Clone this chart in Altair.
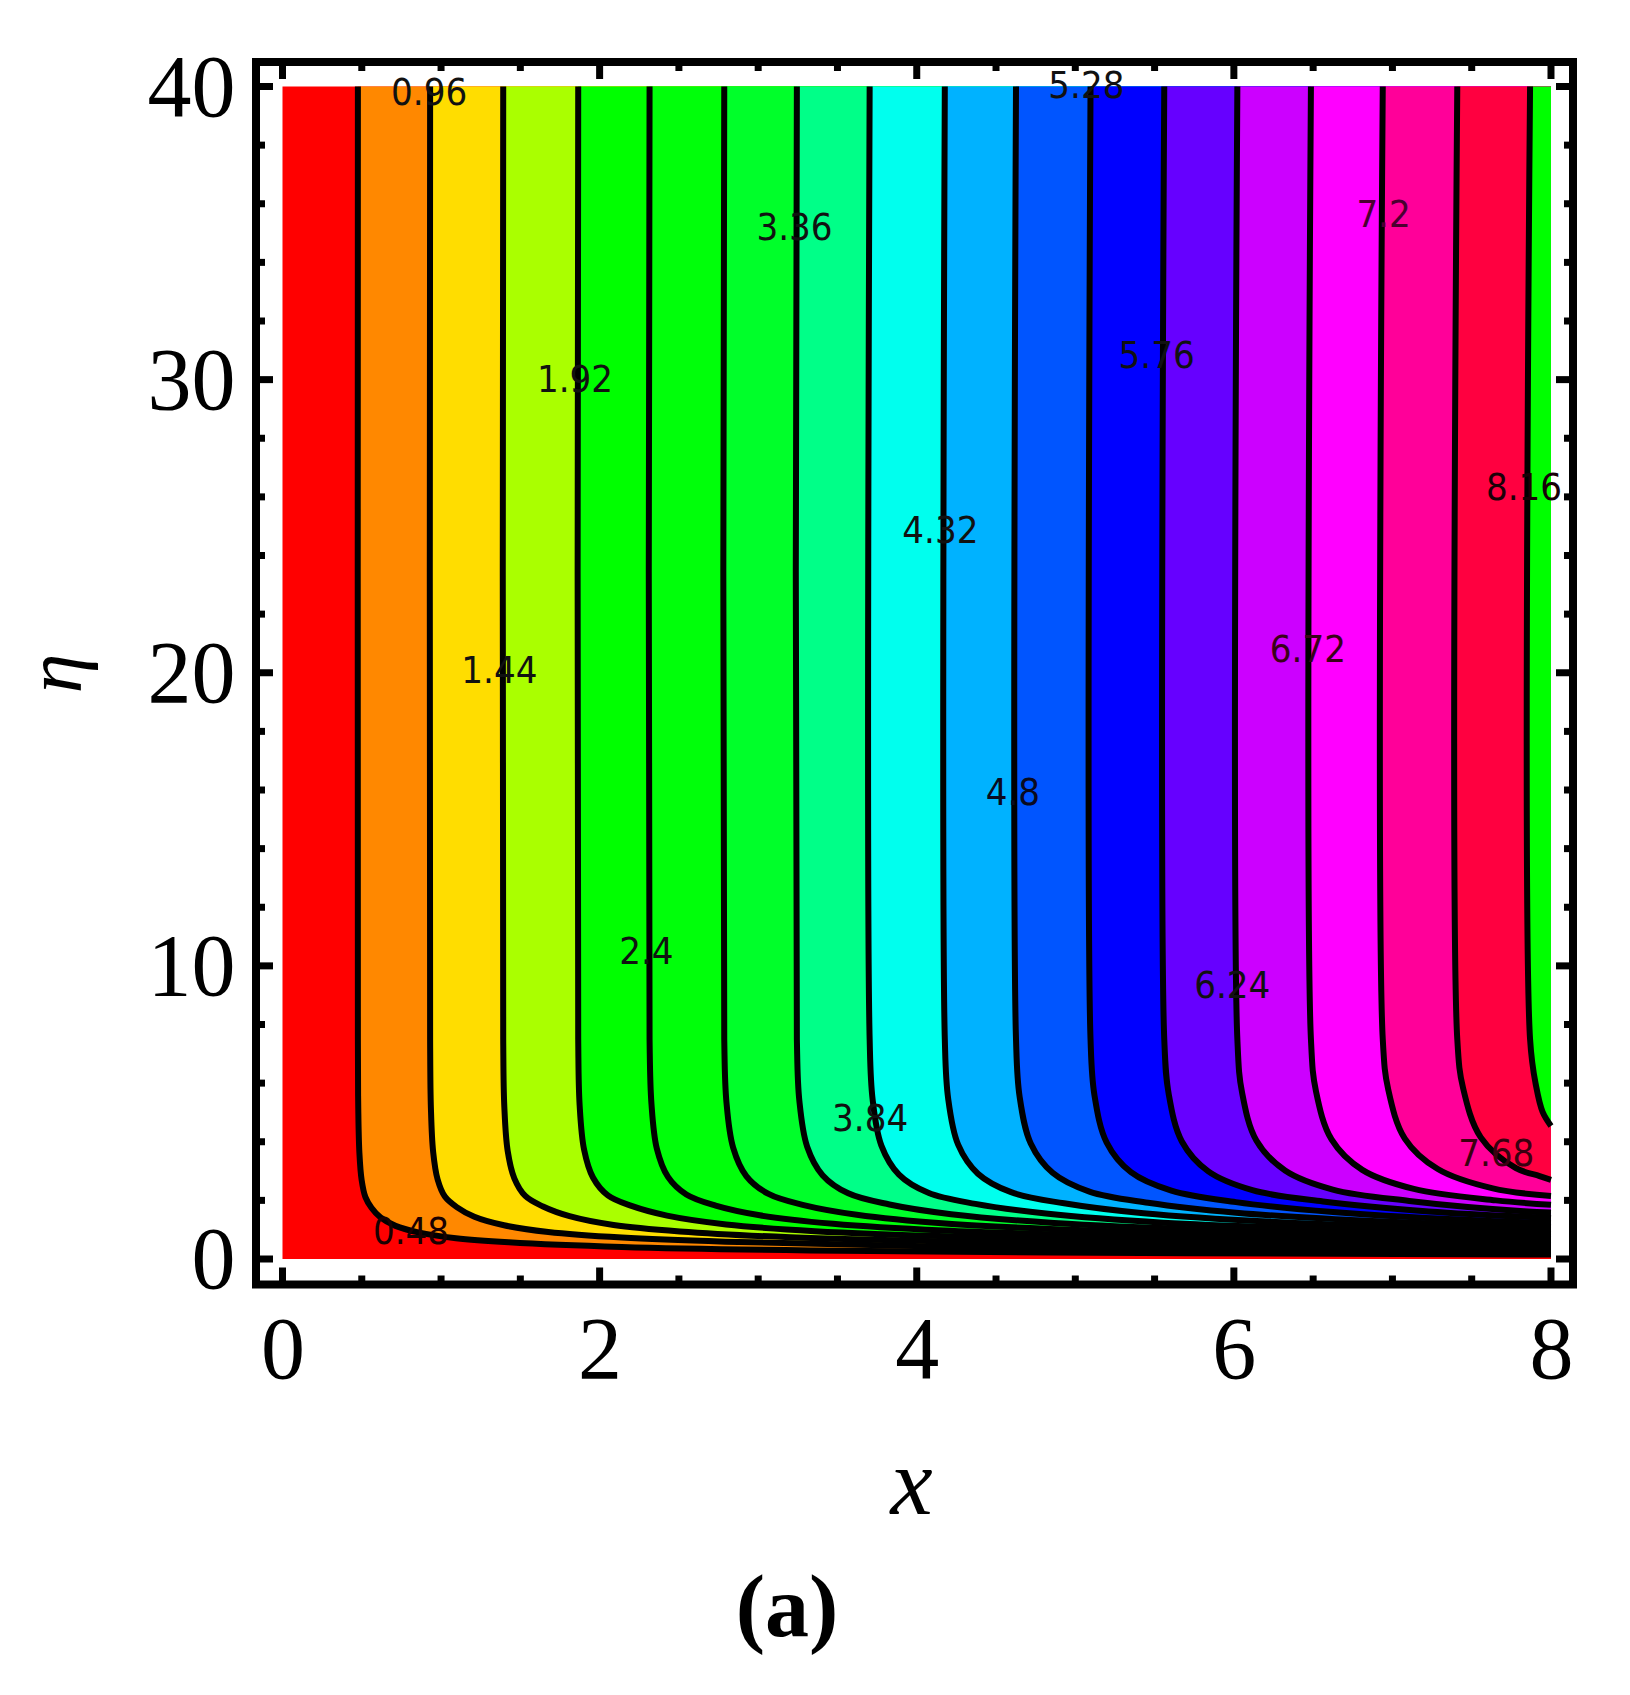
import altair as alt
import pandas as pd

# ---------------- data ----------------
levels = ["0.48", "0.96", "1.44", "1.92", "2.4", "2.88", "3.36", "3.84", "4.32",
          "4.8", "5.28", "5.76", "6.24", "6.72", "7.2", "7.68", "8.16"]

# contour lines: x positions and eta positions of points along each line
c01_x = [0.4755, 0.4755, 0.478, 0.485, 0.499, 0.523, 0.561, 0.618, 0.713, 0.856, 1.094, 1.427, 2.140, 3.329, 5.706, 8.0]
c01_eta = [40, 7.5, 5.09, 3.62, 2.70, 2.11, 1.75, 1.42, 1.13, 0.91, 0.71, 0.57, 0.41, 0.29, 0.20, 0.15]
c02_x = [0.931, 0.931, 0.936, 0.950, 0.978, 1.024, 1.099, 1.210, 1.397, 1.676, 2.141, 2.793, 4.190, 6.517, 8.0]
c02_eta = [40, 7.5, 5.14, 3.66, 2.72, 2.13, 1.77, 1.44, 1.15, 0.92, 0.73, 0.59, 0.42, 0.31, 0.28]
c03_x = [1.392, 1.392, 1.399, 1.420, 1.462, 1.531, 1.643, 1.810, 2.088, 2.506, 3.202, 4.176, 6.264, 8.0]
c03_eta = [40, 7.5, 5.19, 3.69, 2.75, 2.15, 1.79, 1.46, 1.16, 0.94, 0.74, 0.60, 0.44, 0.38]
c04_x = [1.865, 1.865, 1.874, 1.902, 1.958, 2.052, 2.201, 2.425, 2.798, 3.357, 4.290, 5.595, 8.0]
c04_eta = [40, 7.5, 5.24, 3.73, 2.78, 2.17, 1.81, 1.48, 1.18, 0.95, 0.76, 0.62, 0.48]
c05_x = [2.315, 2.315, 2.327, 2.361, 2.431, 2.547, 2.732, 3.010, 3.473, 4.167, 5.325, 6.945, 8.0]
c05_eta = [40, 7.5, 5.29, 3.76, 2.80, 2.20, 1.82, 1.49, 1.20, 0.97, 0.78, 0.63, 0.59]
c06_x = [2.786, 2.786, 2.800, 2.842, 2.925, 3.065, 3.287, 3.622, 4.179, 5.015, 6.408, 8.0]
c06_eta = [40, 7.5, 5.34, 3.80, 2.83, 2.22, 1.84, 1.51, 1.21, 0.99, 0.79, 0.68]
c07_x = [3.244, 3.244, 3.260, 3.309, 3.406, 3.568, 3.828, 4.217, 4.866, 5.839, 7.461, 8.0]
c07_eta = [40, 7.5, 5.38, 3.83, 2.86, 2.24, 1.86, 1.53, 1.23, 1.00, 0.81, 0.77]
c08_x = [3.703, 3.703, 3.722, 3.777, 3.888, 4.073, 4.370, 4.814, 5.555, 6.665, 8.0]
c08_eta = [40, 7.5, 5.43, 3.87, 2.88, 2.26, 1.88, 1.55, 1.24, 1.02, 0.88]
c09_x = [4.177, 4.177, 4.198, 4.261, 4.386, 4.595, 4.929, 5.430, 6.266, 7.519, 8.0]
c09_eta = [40, 7.5, 5.48, 3.90, 2.91, 2.28, 1.90, 1.56, 1.26, 1.03, 0.99]
c10_x = [4.626, 4.626, 4.649, 4.719, 4.857, 5.089, 5.459, 6.014, 6.939, 8.0]
c10_eta = [40, 7.5, 5.53, 3.94, 2.94, 2.30, 1.92, 1.58, 1.28, 1.10]
c11_x = [5.096, 5.096, 5.121, 5.198, 5.351, 5.606, 6.013, 6.625, 7.644, 8.0]
c11_eta = [40, 7.5, 5.58, 3.97, 2.96, 2.33, 1.94, 1.60, 1.29, 1.24]
c12_x = [5.561, 5.561, 5.589, 5.672, 5.839, 6.117, 6.562, 7.229, 8.0]
c12_eta = [40, 7.5, 5.63, 4.01, 2.99, 2.35, 1.96, 1.62, 1.40]
c13_x = [6.022, 6.022, 6.052, 6.142, 6.323, 6.624, 7.106, 7.829, 8.0]
c13_eta = [40, 7.5, 5.67, 4.04, 3.02, 2.37, 1.98, 1.63, 1.59]
c14_x = [6.486, 6.486, 6.518, 6.616, 6.810, 7.135, 7.653, 8.0]
c14_eta = [40, 7.5, 5.72, 4.08, 3.04, 2.39, 2.00, 1.85]
c15_x = [6.939, 6.939, 6.974, 7.078, 7.286, 7.633, 8.0]
c15_eta = [40, 7.5, 5.77, 4.11, 3.07, 2.41, 2.15]
c16_x = [7.409, 7.409, 7.446, 7.557, 7.779, 7.928, 8.0]
c16_eta = [40, 7.5, 5.82, 4.15, 3.10, 2.83, 2.70]
c17_x = [7.868, 7.868, 7.907, 7.947, 8.0]
c17_eta = [40, 7.5, 5.87, 5.02, 4.54]

# band colours: left of first line, then right of each line
band_colors = ["#FF0000", "#FF8800", "#FFDD00", "#AAFF00", "#00FF00", "#00FF0A",
               "#00FF2A", "#00FF88", "#00FFEE", "#00B2FF", "#0055FF", "#0000FF",
               "#6600FF", "#CC00FF", "#FF00FF", "#FF0099", "#FF0040", "#00FF00"]

# contour labels
label_text = ["0.48", "0.96", "1.44", "1.92", "2.4", "3.36", "3.84", "4.32",
              "4.8", "5.28", "5.76", "6.24", "6.72", "7.2", "7.68", "8.16"]
label_x = [0.81, 0.925, 1.368, 1.845, 2.295, 3.229, 3.706, 4.149,
           4.606, 5.07, 5.513, 5.99, 6.467, 6.944, 7.655, 7.83]
label_eta = [0.9, 39.75, 20.02, 29.97, 10.43, 35.13, 4.75, 24.81,
             15.85, 40.0, 30.78, 9.28, 20.75, 35.58, 3.55, 26.28]
label_color = ["#1a0000", "#111111", "#111111", "#111111", "#111111", "#111111", "#111111", "#111111",
               "#0a0a20", "#111111", "#111111", "#111111", "#3a0018", "#4a0030", "#3a0010", "#1a0008"]

# domain of the data field and frame
x_range = [0.0, 8.0]
eta_range = [0.0, 40.0]
x_major = [0, 2, 4, 6, 8]
x_minor = [0.5, 1, 1.5, 2.5, 3, 3.5, 4.5, 5, 5.5, 6.5, 7, 7.5]
y_major = [0, 10, 20, 30, 40]
y_minor = [2, 4, 6, 8, 12, 14, 16, 18, 22, 24, 26, 28, 32, 34, 36, 38]

# ---------------- layout ----------------
W, H = 1317, 1222.5
xs = alt.Scale(domain=[-0.1671, 8.1388], nice=False, zero=False)
ys = alt.Scale(domain=[-0.870, 40.836], nice=False, zero=False)

xaxis = alt.Axis(values=x_major, format="d", title="x", grid=False, domain=False,
                 ticks=False, tickSize=0, labelFont="Liberation Serif", labelFontSize=88,
                 labelColor="black", labelPadding=93, labelBaseline="alphabetic",
                 labelFlush=False, labelOverlap=False,
                 titleFont="Liberation Serif", titleFontSize=95, titleFontStyle="italic",
                 titleFontWeight="normal", titleColor="black", titleX=655, titleY=228.5,
                 titleBaseline="alphabetic", titleAlign="center")
yaxis = alt.Axis(values=y_major, format="d", title="η", grid=False, domain=False,
                 ticks=False, tickSize=0, labelFont="Liberation Serif", labelFontSize=88,
                 labelColor="black", labelPadding=21, labelBaseline="alphabetic",
                 labelOffset=29, labelFlush=False, labelOverlap=False,
                 titleFont="Liberation Serif", titleFontSize=80, titleFontStyle="italic",
                 titleFontWeight="normal", titleColor="black", titleX=-176, titleY=611,
                 titleAngle=270, titleBaseline="alphabetic", titleAlign="center")

X = alt.X("x:Q", scale=xs, axis=xaxis)
Y = alt.Y("y:Q", scale=ys, axis=yaxis)

lines = [(c01_x, c01_eta), (c02_x, c02_eta), (c03_x, c03_eta), (c04_x, c04_eta),
         (c05_x, c05_eta), (c06_x, c06_eta), (c07_x, c07_eta), (c08_x, c08_eta),
         (c09_x, c09_eta), (c10_x, c10_eta), (c11_x, c11_eta), (c12_x, c12_eta),
         (c13_x, c13_eta), (c14_x, c14_eta), (c15_x, c15_eta), (c16_x, c16_eta),
         (c17_x, c17_eta)]

rows = []
for k, (xx, ee) in enumerate(lines):
    for i, (a, b) in enumerate(zip(xx, ee)):
        rows.append({"level": levels[k], "k": k, "i": i, "x": a, "y": b, "x2": x_range[1]})
df = pd.DataFrame(rows)

layers = []
bg = alt.Chart(pd.DataFrame({"x": [x_range[0]], "x2": [x_range[1]],
                             "y": [eta_range[0]], "y2": [eta_range[1]]})).mark_rect(
    color=band_colors[0]).encode(x=X, x2="x2:Q", y=Y, y2="y2:Q")
layers.append(bg)

for k in range(len(lines)):
    band = alt.Chart(df[df.k == k]).mark_area(
        orient="horizontal", color=band_colors[k + 1], interpolate="catmull-rom",
        opacity=1).encode(x=X, x2="x2:Q", y=Y)
    layers.append(band)

contours = alt.Chart(df).mark_line(color="black", strokeWidth=6, interpolate="catmull-rom").encode(
    x=X, y=Y, detail="level:N", order="i:Q")
layers.append(contours)

lab = pd.DataFrame({"t": label_text, "x": label_x, "y": label_eta, "c": label_color})
labels = alt.Chart(lab).mark_text(font="DejaVu Sans Condensed", fontSize=38,
                                  baseline="middle", align="center").encode(
    x=X, y=Y, text="t:N", color=alt.Color("c:N", scale=None))
layers.append(labels)

tick_w = 7
major_len, minor_len = 17, 9
dfxM = pd.DataFrame({"x": x_major})
dfxm = pd.DataFrame({"x": x_minor})
dfyM = pd.DataFrame({"y": y_major})
dfym = pd.DataFrame({"y": y_minor})
for d, ln in ((dfxM, major_len), (dfxm, minor_len)):
    layers.append(alt.Chart(d).mark_rule(color="black", strokeWidth=tick_w).encode(
        x=X, y=alt.value(H), y2=alt.value(H - ln)))
    layers.append(alt.Chart(d).mark_rule(color="black", strokeWidth=tick_w).encode(
        x=X, y=alt.value(0), y2=alt.value(ln)))
for d, ln in ((dfyM, major_len), (dfym, minor_len)):
    layers.append(alt.Chart(d).mark_rule(color="black", strokeWidth=tick_w).encode(
        y=Y, x=alt.value(0), x2=alt.value(ln)))
    layers.append(alt.Chart(d).mark_rule(color="black", strokeWidth=tick_w).encode(
        y=Y, x=alt.value(W), x2=alt.value(W - ln)))

caption = alt.Chart(pd.DataFrame({"t": ["(a)"]})).mark_text(
    font="Liberation Serif", fontSize=88, fontWeight="bold", color="black",
    align="center", baseline="alphabetic").encode(
    text="t:N", x=alt.value(531), y=alt.value(1574))
layers.append(caption)

chart = alt.layer(*layers).properties(
    width=W, height=H,
    padding={"left": 248, "top": 54, "right": 40, "bottom": 380},
    autosize=alt.AutoSizeParams(type="none"),
    background="white",
).configure_view(stroke="black", strokeWidth=8)

chart.save("out.html", embed_options={"renderer": "svg", "actions": False})
